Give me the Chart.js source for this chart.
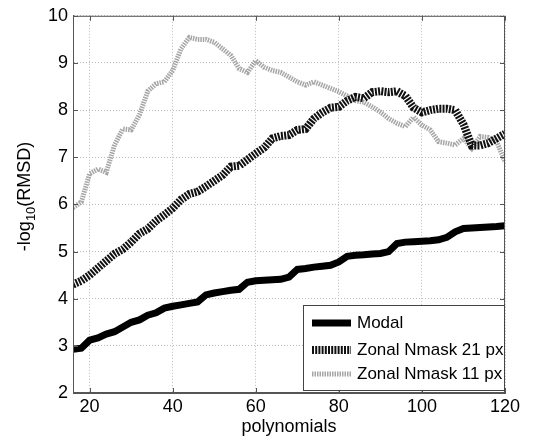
<!DOCTYPE html>
<html>
<head>
<meta charset="utf-8">
<script src="https://cdn.jsdelivr.net/npm/chart.js@4.4.1/dist/chart.umd.min.js"></script>
<style>
  html, body { margin: 0; padding: 0; background: #fff; }
  #wrap { width: 534px; height: 442px; }
</style>
</head>
<body>
<div id="wrap"><canvas id="rmsdChart" width="534" height="442"></canvas></div>
<script>
// datos (x = numero de polinomios)
const polynomials = [16,18,20,22,24,26,28,30,32,34,36,38,40,42,44,46,48,50,52,54,56,58,60,62,64,66,68,
  70,72,74,76,78,80,82,84,86,88,90,92,94,96,98,100,102,104,106,108,110,112,114,116,118,120];

const modal = [2.93,2.95,3.12,3.17,3.25,3.3,3.4,3.5,3.55,3.65,3.7,3.8,3.84,3.87,3.9,3.93,4.08,4.12,4.15,4.18,4.2,4.35,4.38,4.39,4.4,4.41,4.46,
  4.62,4.64,4.67,4.69,4.71,4.78,4.9,4.92,4.93,4.95,4.96,5.0,5.17,5.2,5.21,5.22,5.23,5.25,5.3,5.42,5.49,5.5,5.51,5.52,5.53,5.55];

const zonal21 = [4.3,4.38,4.5,4.65,4.8,4.95,5.05,5.2,5.38,5.48,5.65,5.78,5.92,6.1,6.22,6.27,6.38,6.5,6.62,6.8,6.82,6.95,7.08,7.2,7.4,7.45,7.47,
  7.58,7.6,7.82,7.95,8.05,8.07,8.2,8.28,8.25,8.38,8.4,8.38,8.4,8.3,8.05,7.95,8.0,8.03,8.03,8.0,7.7,7.25,7.25,7.3,7.4,7.5];

const zonal11 = [5.93,6.05,6.65,6.75,6.68,7.26,7.6,7.58,7.9,8.4,8.56,8.6,8.84,9.3,9.54,9.5,9.5,9.44,9.3,9.16,8.88,8.8,9.05,8.91,8.84,8.8,8.7,
  8.6,8.53,8.6,8.53,8.46,8.39,8.3,8.2,8.17,8.07,7.96,7.82,7.72,7.65,7.85,7.68,7.58,7.33,7.3,7.26,7.4,7.19,7.44,7.42,7.33,6.91];

const seriesNames = ['Modal', 'Zonal Nmask 21 px', 'Zonal Nmask 11 px'];
const xTicks = [20, 40, 60, 80, 100, 120];
const yTicks = [2, 3, 4, 5, 6, 7, 8, 9, 10];

const FONT = "'Liberation Sans', Arial, sans-serif";

function toPoints(values) {
    return polynomials.map((x, i) => ({ x: x, y: values[i] }));
}

// caja completa, marcas hacia dentro, leyenda y titulo del eje y
const framePlugin = {
    id: 'framePlugin',
    afterDatasetsDraw(chart) {
        const { ctx, chartArea: a, scales } = chart;
        ctx.save();
        ctx.strokeStyle = '#555';
        ctx.lineWidth = 1;
        ctx.setLineDash([]);
        ctx.strokeRect(a.left + 0.5, a.top + 0.5, a.right - a.left - 1, a.bottom - a.top - 1);

        const tl = 5;
        ctx.beginPath();
        xTicks.forEach(v => {
            const px = Math.round(scales.x.getPixelForValue(v)) + 0.5;
            ctx.moveTo(px, a.bottom); ctx.lineTo(px, a.bottom - tl);
            ctx.moveTo(px, a.top); ctx.lineTo(px, a.top + tl);
        });
        yTicks.forEach(v => {
            const py = Math.round(scales.y.getPixelForValue(v)) + 0.5;
            ctx.moveTo(a.left, py); ctx.lineTo(a.left + tl, py);
            ctx.moveTo(a.right, py); ctx.lineTo(a.right - tl, py);
        });
        ctx.stroke();

        // leyenda abajo a la derecha
        const boxL = 303, boxT = 305, boxR = a.right - 1, boxB = a.bottom - 3;
        ctx.fillStyle = '#fff';
        ctx.fillRect(boxL, boxT, boxR - boxL, boxB - boxT);
        ctx.strokeStyle = '#444';
        ctx.lineWidth = 1;
        ctx.strokeRect(boxL + 0.5, boxT + 0.5, boxR - boxL, boxB - boxT);

        const rows = [323, 350, 374];
        chart.data.datasets.forEach((ds, i) => {
            ctx.save();
            ctx.strokeStyle = ds.borderColor;
            ctx.lineWidth = ds.borderWidth;
            ctx.setLineDash(ds.borderDash || []);
            ctx.beginPath();
            ctx.moveTo(312, rows[i]);
            ctx.lineTo(351, rows[i]);
            ctx.stroke();
            ctx.restore();
            ctx.fillStyle = '#000';
            ctx.font = '17px ' + FONT;
            ctx.textBaseline = 'middle';
            ctx.textAlign = 'left';
            ctx.fillText(seriesNames[i], 357, rows[i]);
        });

        // titulo eje y con subindice
        ctx.save();
        ctx.translate(25, (a.top + a.bottom) / 2 - 8);
        ctx.rotate(-Math.PI / 2);
        ctx.fillStyle = '#000';
        ctx.textBaseline = 'middle';
        ctx.textAlign = 'left';
        const big = '18px ' + FONT, small = '13px ' + FONT;
        ctx.font = big;
        const w1 = ctx.measureText('-log').width;
        const w3 = ctx.measureText('(RMSD)').width;
        ctx.font = small;
        const w2 = ctx.measureText('10').width;
        let x0 = -(w1 + w2 + w3) / 2;
        ctx.font = big;
        ctx.fillText('-log', x0, 0);
        ctx.font = small;
        ctx.fillText('10', x0 + w1, 6);
        ctx.font = big;
        ctx.fillText('(RMSD)', x0 + w1 + w2, 0);
        ctx.restore();

        ctx.restore();
    }
};

new Chart(document.getElementById('rmsdChart').getContext('2d'), {
    type: 'line',
    data: {
        datasets: [
            {
                label: seriesNames[0],
                data: toPoints(modal),
                borderColor: '#000',
                borderWidth: 7,
                pointRadius: 0,
                tension: 0
            },
            {
                label: seriesNames[1],
                data: toPoints(zonal21),
                borderColor: '#111',
                borderWidth: 8,
                borderDash: [2, 1.2],
                pointRadius: 0,
                tension: 0
            },
            {
                label: seriesNames[2],
                data: toPoints(zonal11),
                borderColor: '#a6a6a6',
                borderWidth: 5,
                borderDash: [1.5, 1],
                pointRadius: 0,
                tension: 0
            }
        ]
    },
    options: {
        responsive: false,
        animation: false,
        layout: { padding: { top: 13, right: 29, left: 0, bottom: 0 } },
        scales: {
            x: {
                type: 'linear',
                min: 16,
                max: 120,
                afterBuildTicks: scale => {
                    scale.ticks = xTicks.map(v => ({ value: v }));
                },
                afterFit: scale => { scale.height = 49; },
                ticks: {
                    color: '#000',
                    padding: 3,
                    font: { family: FONT, size: 18 }
                },
                grid: { color: '#bbb', lineWidth: 1, drawTicks: false },
                border: { display: true, color: '#555', dash: [1, 2] },
                title: {
                    display: true,
                    text: 'polynomials',
                    color: '#000',
                    font: { family: FONT, size: 18 },
                    padding: { top: 0, bottom: 4 }
                }
            },
            y: {
                type: 'linear',
                min: 2,
                max: 10,
                afterBuildTicks: scale => {
                    scale.ticks = yTicks.map(v => ({ value: v }));
                },
                afterFit: scale => { scale.width = 73; },
                ticks: {
                    color: '#000',
                    padding: 5,
                    font: { family: FONT, size: 18 }
                },
                grid: { color: '#bbb', lineWidth: 1, drawTicks: false },
                border: { display: true, color: '#555', dash: [1, 2] }
            }
        },
        plugins: {
            legend: { display: false },
            tooltip: { enabled: false }
        }
    },
    plugins: [framePlugin]
});
</script>
</body>
</html>
